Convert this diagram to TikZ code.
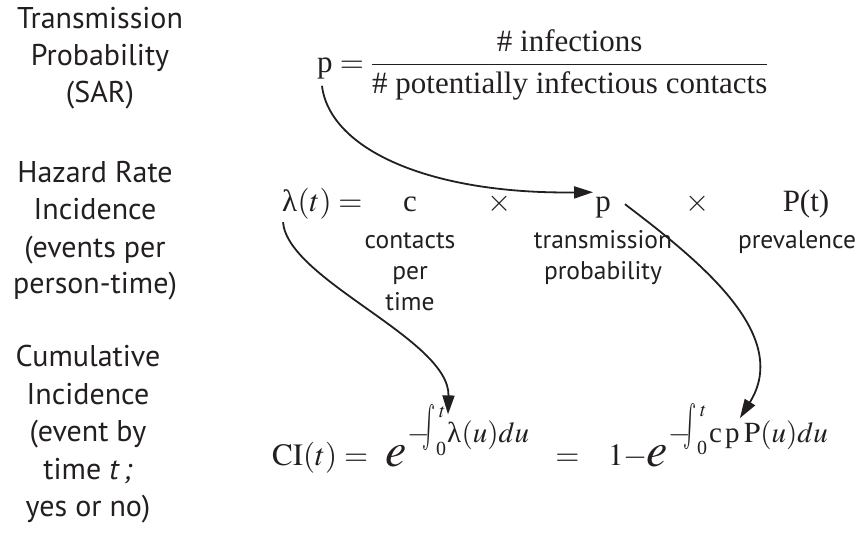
\documentclass[tikz,border=0pt]{standalone}
\usepackage{graphicx}
\usepackage{mathptmx}
\usepackage[no-math]{fontspec}
\setmainfont{Liberation Serif}
\newfontfamily\labfont{PT Sans}
\usetikzlibrary{arrows.meta}
\definecolor{ink}{RGB}{35,31,32}
\newcommand{\tallint}{\resizebox*{13pt}{46pt}{$\int$}}
\tikzset{
  lab/.style={font=\labfont\fontsize{30}{36}\selectfont, anchor=base, inner sep=0pt, text=ink},
  sublab/.style={font=\labfont\fontsize{25.5}{30}\selectfont, anchor=base, inner sep=0pt, text=ink},
  eq/.style={font=\fontsize{31}{37}\selectfont, anchor=base, inner sep=0pt, text=ink},
  xp/.style={font=\fontsize{29}{29}\selectfont, anchor=base west, inner sep=0pt, text=ink},
  lim/.style={font=\fontsize{20}{20}\selectfont, anchor=base west, inner sep=0pt, text=ink},
  intsign/.style={anchor=north west, inner sep=0pt, text=ink},
  bige/.style={font=\fontsize{48}{48}\selectfont, anchor=base west, inner sep=0pt, text=ink},
  conn/.style={draw=ink, line width=1.8pt, -{Triangle[length=19pt,width=12pt]}},
}
\begin{document}
\begin{tikzpicture}[x=1pt,y=-1pt]
\useasboundingbox (0,0) rectangle (861,533);
% left labels
\node[lab] (g1a) at (100,28) {Transmission};
\node[lab] (g1b) at (100,65) {Probability};
\node[lab] (g1c) at (100,102) {(SAR)};
\node[lab] (g2a) at (95,182) {Hazard Rate};
\node[lab] (g2b) at (95,219) {Incidence};
\node[lab] (g2c) at (95,257) {(events per};
\node[lab] (g2d) at (95,293) {person-time)};
\node[lab] (g3a) at (88,366) {Cumulative};
\node[lab] (g3b) at (88,404) {Incidence};
\node[lab] (g3c) at (88,441) {(event by};
\node[lab] (g3d) at (88,479) {time \textit{t\,;}};
\node[lab] (g3e) at (88,516) {yes or no)};
% top equation
\node[eq, anchor=base west] (ptop) at (317,72) {p};
\node[eq, anchor=base west] (ftop) at (ptop.base east) {${}={}\displaystyle\frac{\mbox{\# infections}}{\mbox{\# potentially infectious contacts}}$};
% middle row
\node[eq, anchor=base west] (lam) at (282,211) {λ};
\node[eq, anchor=base west] (lamr) at (lam.base east) {$(t) =$};
\node[eq] (cmid) at (410,211) {c};
\node[eq] (x1) at (500,211) {$\times$};
\node[eq] (pmid) at (603,211) {p};
\node[eq] (x2) at (698,211) {$\times$};
\node[eq] (Pt) at (806,211) {P(t)};
\node[sublab] (s1a) at (410,248) {contacts};
\node[sublab] (s1b) at (410,279) {per};
\node[sublab] (s1c) at (410,310) {time};
\node[sublab] (s2a) at (603,248) {transmission};
\node[sublab] (s2b) at (603,279) {probability};
\node[sublab] (s3a) at (797,248) {prevalence};
% bottom row, first form
\node[eq, anchor=base west] (ci) at (272,465) {$\mathrm{CI}(t) =$};
\node[bige] (e1) at (385,466) {$e$};
\node[xp] (m1) at (407,442) {$-$};
\node[intsign] (i1) at (422,404) {\tallint};
\node[lim] (t1) at (439,417) {$t$};
\node[lim] (z1) at (436,455) {0};
\node[xp] (lamx) at (447,442) {λ};
\node[xp] (x1c) at (lamx.base east) {$(u)du$};
% bottom row, second form
\node[eq] (eq2) at (567.5,465) {$=$};
\node[eq, anchor=base west] (one) at (608,465) {$1-$};
\node[bige] (e2) at (646,466) {$e$};
\node[xp] (m2) at (668,442) {$-$};
\node[intsign] (i2) at (683,403) {\tallint};
\node[lim] (t2) at (700,416) {$t$};
\node[lim] (z2) at (697,454) {0};
\node[xp] (cx) at (709,442) {c};
\node[xp] (pexp) at (725,442) {p};
\node[xp] (x2d) at (744,442) {$\mathrm{P}(u)du$};
% connectors
\draw[conn] ([xshift=-3pt,yshift=-7pt]ptop.south) .. controls +(8,64) and +(-163,2) .. ([xshift=-2pt,yshift=4pt]pmid.north west);
\draw[conn] ([xshift=1pt,yshift=-11pt]lam.south west) .. controls +(5,58) and +(2,-75) .. ([xshift=1pt,yshift=7pt]lamx.north west);
\draw[conn] ([xshift=14pt,yshift=-8pt]pmid.north east) .. controls +(75,57) and +(52,-83) .. ([xshift=0pt,yshift=10pt]pexp.north east);
\end{tikzpicture}
\end{document}
